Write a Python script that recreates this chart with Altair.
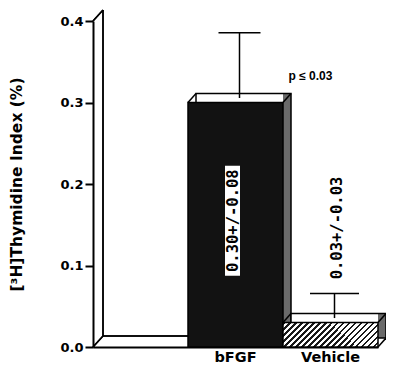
import altair as alt
import pandas as pd

# ---- data ----
categories = [" ", "bFGF", "Vehicle"]          # first band is the empty floor
groups = ["bFGF", "Vehicle"]
means = [0.30, 0.03]
errors = [0.08, 0.03]
value_labels = ["0.30+/-0.08", "0.03+/-0.03"]
value_label_pos = [0.155, 0.146]
p_text = "p \u2264 0.03"
p_pos = 0.333
y_ticks = [0.0, 0.1, 0.2, 0.3, 0.4]

df = pd.DataFrame({
    "cat": groups,
    "mean": means,
    "err": errors,
    "top": [m + e for m, e in zip(means, errors)],
    "label": value_labels,
    "lpos": value_label_pos,
})

W, H = 285, 326
DX, DY = 8, -9          # bar depth offset (px)
WDX, WDY = 10, -11      # wall depth offset (px)
FONT = "DejaVu Sans"
PFONT = "Liberation Sans"
MONO = "DejaVu Sans Mono"

xscale = alt.Scale(domain=categories, paddingInner=0, paddingOuter=0)
yscale = alt.Scale(domain=[0, 0.4], nice=False)

x_enc = alt.X("cat:N", scale=xscale, sort=categories,
              axis=alt.Axis(title=None, labelAngle=0, ticks=False))
y_enc = alt.Y("mean:Q", scale=yscale,
              axis=alt.Axis(title="[\u00b3H]Thymidine Index  (%)", values=y_ticks, format=".1f"))

side_fill = alt.LinearGradient(
    gradient="linear", x1=0, y1=0, x2=1, y2=0,
    stops=[alt.GradientStop(color="white", offset=0),
           alt.GradientStop(color="white", offset=0.916),
           alt.GradientStop(color="#6a6a6a", offset=0.916),
           alt.GradientStop(color="#6a6a6a", offset=1)])

n_stripes = 20
hatch_stops = []
for i in range(n_stripes):
    a = i / n_stripes
    b = a + 0.45 / n_stripes
    c = (i + 1) / n_stripes
    hatch_stops += [alt.GradientStop(color="#1a1a1a", offset=a),
                    alt.GradientStop(color="#1a1a1a", offset=b),
                    alt.GradientStop(color="white", offset=b),
                    alt.GradientStop(color="white", offset=c)]
hatch_fill = alt.LinearGradient(gradient="linear", x1=0, y1=0, x2=1.18, y2=0.30,
                                stops=hatch_stops)

base = alt.Chart(df)


def box_layers(name, front_fill, cap, first=False):
    b = base.transform_filter(alt.datum.cat == name)
    back = b.mark_bar(fill=side_fill, stroke="black", strokeWidth=1.5,
                      xOffset=DX, yOffset=DY).encode(
        x=x_enc if first else alt.X("cat:N"), y=y_enc if first else alt.Y("mean:Q"))
    front = b.mark_bar(fill=front_fill, stroke="black", strokeWidth=1.5).encode(
        x=alt.X("cat:N"), y=alt.Y("mean:Q"))
    diag = dict(shape=f"M0,0L{DX},{DY}", size=4, filled=False, stroke="black",
                strokeWidth=1.5, opacity=1)
    d1 = b.mark_point(**diag).encode(x=alt.X("cat:N", bandPosition=0), y=alt.Y("mean:Q"))
    d2 = b.mark_point(**diag).encode(x=alt.X("cat:N", bandPosition=1), y=alt.Y("mean:Q"))
    d3 = b.mark_point(**diag).encode(x=alt.X("cat:N", bandPosition=1), y=alt.YDatum(0))
    eb = b.mark_rule(color="black", strokeWidth=1.5, xOffset=DX / 2, yOffset=DY / 2,
                     y2Offset=DY / 2).encode(x=alt.X("cat:N"), y=alt.Y("mean:Q"), y2="top:Q")
    ec = b.mark_tick(color="black", thickness=1.5, size=cap, xOffset=DX / 2,
                     yOffset=DY / 2, opacity=1).encode(x=alt.X("cat:N"), y=alt.Y("top:Q"))
    return [back, front, d1, d2, d3, eb, ec]


layers = box_layers("bFGF", "#121212", 42, first=True)

# white box behind the bFGF value label
label_box = base.transform_filter(alt.datum.cat == "bFGF").mark_point(
    shape="M-7.5,-55H7.5V55H-7.5Z", size=4, filled=True, fill="white",
    strokeWidth=0, opacity=1, xOffset=-3).encode(
    x=alt.X("cat:N"), y=alt.Y("lpos:Q"))
label_b = base.transform_filter(alt.datum.cat == "bFGF").mark_text(
    angle=270, font=MONO, fontWeight="bold", fontSize=15.5, color="black",
    xOffset=-3, baseline="middle", align="center").encode(
    x=alt.X("cat:N"), y=alt.Y("lpos:Q"), text="label:N")

layers += [label_box, label_b]
layers += box_layers("Vehicle", hatch_fill, 49)

label_v = base.transform_filter(alt.datum.cat == "Vehicle").mark_text(
    angle=270, font=MONO, fontWeight="bold", fontSize=15.5, color="black",
    xOffset=6, baseline="middle", align="center").encode(
    x=alt.X("cat:N"), y=alt.Y("lpos:Q"), text="label:N")
p_label = base.transform_filter(alt.datum.cat == "Vehicle").mark_text(
    text=p_text, font=PFONT, fontWeight="bold", fontSize=12, color="black",
    xOffset=-20).encode(x=alt.X("cat:N"), y=alt.YDatum(p_pos))

# wall and floor (the empty first band)
wall_back = alt.Chart(df).mark_rule(color="black", strokeWidth=1.5, xOffset=WDX,
                                    yOffset=WDY, y2Offset=WDY).encode(
    x=alt.XDatum(" ", type="nominal", bandPosition=0),
    y=alt.YDatum(0), y2=alt.YDatum(0.4))
floor_back = alt.Chart(df).mark_rule(color="black", strokeWidth=1.5, xOffset=WDX,
                                     x2Offset=0, yOffset=WDY, y2Offset=WDY).encode(
    x=alt.XDatum(" ", type="nominal", bandPosition=0),
    x2=alt.X2Datum("bFGF", bandPosition=0),
    y=alt.YDatum(0))
wdiag = dict(shape=f"M0,0L{WDX},{WDY}", size=4, filled=False, stroke="black",
             strokeWidth=1.5, opacity=1)
wall_d1 = alt.Chart(df).mark_point(**wdiag).encode(
    x=alt.XDatum(" ", type="nominal", bandPosition=0), y=alt.YDatum(0))
wall_d2 = alt.Chart(df).mark_point(**wdiag).encode(
    x=alt.XDatum(" ", type="nominal", bandPosition=0), y=alt.YDatum(0.4))

chart = alt.layer(*layers, label_v, p_label, wall_back, floor_back, wall_d1, wall_d2).properties(
    width=W, height=H,
    autosize=alt.AutoSizeParams(type="none"),
    padding={"left": 85, "top": 13, "right": 8, "bottom": 16},
    background="white",
).configure_view(stroke=None).configure_axisX(
    labelFont=FONT, labelFontWeight="bold", labelFontSize=14.5, labelColor="black",
    ticks=False, tickSize=0, domainColor="black", domainWidth=2, labelPadding=3, labelAngle=0,
).configure_axisY(
    grid=False, domainColor="black", domainWidth=2,
    tickColor="black", tickWidth=2, tickSize=8,
    labelFont=FONT, labelFontWeight="bold", labelFontSize=13,
    labelColor="black", labelPadding=2,
    titleFont=FONT, titleFontWeight="bold", titleFontSize=15.5,
    titleColor="black", titlePadding=35,
)

chart.save("out.html", embed_options={"renderer": "svg", "actions": False})
